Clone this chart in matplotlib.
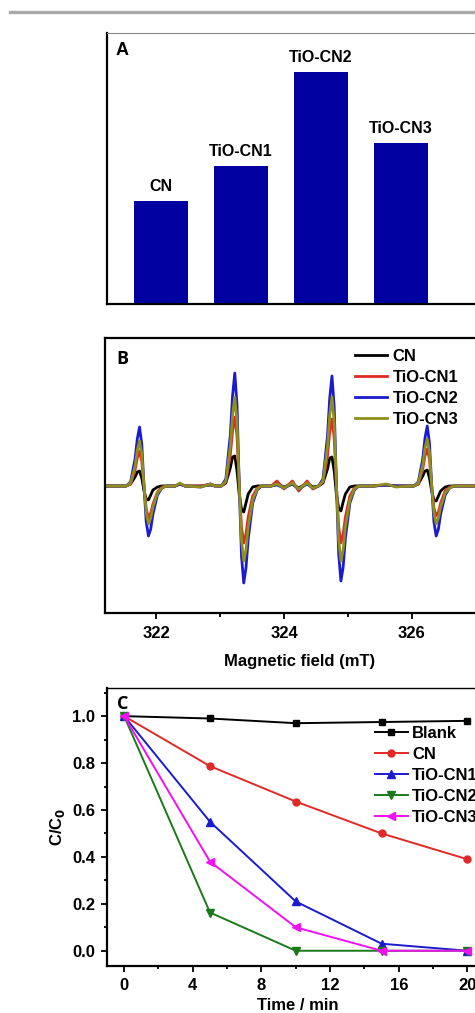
import matplotlib
matplotlib.use("Agg")
import matplotlib.pyplot as plt
from matplotlib.lines import Line2D

# --------------------------------
# Data
# --------------------------------

# Panel A: relative signal intensity (no axis scale in figure)
samples = ["CN", "TiO-CN1", "TiO-CN2", "TiO-CN3"]
intensity = [1.00, 1.34, 2.25, 1.56]

# Panel B: EPR spectra (field in mT, signal in a.u.)
field = [321.20, 321.45,
         321.53, 321.60, 321.67, 321.705, 321.74, 321.775, 321.81, 321.845, 321.88, 321.915, 321.95, 322.02, 322.09, 322.16,
         322.30, 322.37, 322.45, 322.70, 322.85, 322.92,
         323.02, 323.09, 323.16, 323.195, 323.23, 323.265, 323.30, 323.335, 323.37, 323.405, 323.44, 323.51, 323.58, 323.65,
         323.80, 323.89, 324.00, 324.13, 324.23, 324.36, 324.45,
         324.54, 324.61, 324.68, 324.715, 324.75, 324.785, 324.82, 324.855, 324.89, 324.925, 324.96, 325.03, 325.10, 325.17,
         325.40, 325.60, 325.75, 325.95,
         326.03, 326.10, 326.17, 326.205, 326.24, 326.275, 326.31, 326.345, 326.38, 326.415, 326.45, 326.52, 326.59, 326.66,
         326.90, 327.30]

epr_cn = [0, 0,
          0, 2, 9, 14, 15, 8, -5, -13, -14, -9, -4, -1, 0, 0,
          0, 2, 0, 0, 1, 0,
          0, 3, 18, 29, 30, 15, -9, -23, -26, -17, -8, -1, 0, 0,
          0, 2, -1, 2, -2, 3, -1,
          0, 3, 17, 28, 29, 15, -9, -22, -25, -16, -8, -1, 0, 0,
          0, 1, 0, 0,
          0, 2, 10, 15, 16, 8, -5, -14, -15, -10, -5, -1, 0, 0,
          0, 0]

epr_cn1 = [0, 0,
           0, 2, 16, 28, 35, 25, 0, -23, -32, -27, -18, -6, -1, 0,
           0, 2, 0, 0, 2, 0,
           0, 4, 31, 55, 69, 50, 0, -41, -57, -48, -31, -10, -2, 0,
           0, 5, -3, 5, -5, 5, -3,
           0, 4, 30, 54, 67, 48, 0, -41, -57, -48, -31, -10, -2, 0,
           0, 1, 0, 0,
           0, 2, 17, 30, 37, 27, 0, -22, -30, -26, -17, -5, -1, 0,
           0, 0]

epr_cn2 = [0, 0,
           0, 4, 27, 47, 59, 42, 0, -36, -50, -43, -28, -9, -2, 0,
           0, 2, 0, -1, 2, 0,
           0, 7, 51, 90, 113, 81, 0, -70, -97, -82, -53, -17, -4, 0,
           0, 1, -2, 2, -3, 2, -2,
           0, 7, 50, 88, 110, 79, 0, -68, -95, -81, -52, -17, -4, 0,
           0, 1, 0, 0,
           0, 4, 27, 48, 60, 43, 0, -36, -50, -43, -28, -9, -2, 0,
           0, 0]

epr_cn3 = [0, 0,
           0, 3, 20, 36, 45, 32, 0, -27, -38, -32, -21, -7, -2, 0,
           0, 3, 0, -1, 2, 0,
           0, 5, 40, 71, 89, 64, 0, -54, -75, -64, -41, -14, -3, 0,
           0, 2, -2, 3, -3, 3, -2,
           0, 5, 40, 71, 89, 64, 0, -54, -75, -64, -41, -14, -3, 0,
           0, 2, -1, 0,
           0, 3, 21, 38, 47, 34, 0, -27, -38, -32, -21, -7, -2, 0,
           0, 0]

# Panel C: degradation C/C0 vs time
time_min = [0, 5, 10, 15, 20]
blank = [1.00, 0.99, 0.97, 0.975, 0.98]
cn = [1.00, 0.787, 0.636, 0.50, 0.39]
tio_cn1 = [1.00, 0.55, 0.21, 0.03, 0.0]
tio_cn2 = [1.00, 0.163, 0.0, 0.0, 0.0]
tio_cn3 = [1.00, 0.38, 0.10, 0.0, 0.0]

# --------------------------------
# Style
# --------------------------------
plt.rcParams["font.family"] = ["Liberation Sans", "DejaVu Sans"]
plt.rcParams["font.weight"] = "bold"
plt.rcParams["axes.labelweight"] = "bold"

W, H = 475, 1013
fig = plt.figure(figsize=(W / 100, H / 100), dpi=100)


def px_axes(left, top, width, bottom):
    return fig.add_axes([left / W, 1 - bottom / H, width / W, (bottom - top) / H])


# gray rule at top
fig.add_artist(Line2D([10 / W, 1.0], [1 - 12 / H, 1 - 12 / H], color="#a9a9a9", lw=2.4))

# --------------------------------
# Panel A
# --------------------------------
ax1 = px_axes(107, 33, 374, 304)
x_pos = range(len(samples))
bars = ax1.bar(x_pos, intensity, width=0.675, color="#0000a0")
for b, name in zip(bars, samples):
    ax1.annotate(name, (b.get_x() + b.get_width() / 2, b.get_height()),
                 xytext=(0, 5), textcoords="offset points",
                 ha="center", va="bottom", fontsize=11.5, fontweight="bold")
ax1.set_xlim(-0.675, 4.0)
ax1.set_ylim(0, 2.63)
ax1.set_xticks([])
ax1.set_yticks([])
ax1.spines["right"].set_visible(False)
ax1.spines["left"].set_linewidth(1.6)
ax1.spines["bottom"].set_linewidth(1.6)
ax1.spines["top"].set_linewidth(0.8)
ax1.spines["top"].set_color("#8a8a8a")
ax1.text(0.024, 0.965, "A", transform=ax1.transAxes, ha="left", va="top",
         fontsize=13, fontweight="bold")

# --------------------------------
# Panel B
# --------------------------------
ax2 = px_axes(105, 338, 390, 613)
ax2.plot(field, epr_cn, color="black", lw=2, label="CN")
ax2.plot(field, epr_cn1, color="#e02a25", lw=2, label="TiO-CN1")
ax2.plot(field, epr_cn2, color="#1a1ad0", lw=2, label="TiO-CN2")
ax2.plot(field, epr_cn3, color="#8f8f1c", lw=2, label="TiO-CN3")
ax2.set_xlim(321.2, 327.3)
ax2.set_ylim(-127, 148)
ax2.set_yticks([])
ax2.set_xticks([322, 324, 326])
ax2.set_xticks([323, 325, 327], minor=True)
ax2.tick_params(axis="x", which="major", direction="out", length=4, width=1.3,
                labelsize=12, pad=5)
ax2.tick_params(axis="x", which="minor", direction="out", length=3, width=1.3)
ax2.spines["right"].set_visible(False)
for s in ["left", "bottom", "top"]:
    ax2.spines[s].set_linewidth(1.6)
ax2.set_xlabel("Magnetic field (mT)", fontsize=12, labelpad=10)
ax2.legend(loc="upper left", bbox_to_anchor=(0.641, 0.96), frameon=False,
           fontsize=12, handlelength=1.95, handletextpad=0.3,
           labelspacing=0.36, borderpad=0, borderaxespad=0)
ax2.text(0.028, 0.955, "B", transform=ax2.transAxes, ha="left", va="top",
         fontsize=13, fontweight="bold", family=["Open Sans", "DejaVu Sans"])

# --------------------------------
# Panel C
# --------------------------------
ax3 = px_axes(107, 688, 381, 966)
ax3.plot(time_min, blank, "-s", color="black", ms=4.5, lw=1.4, label="Blank")
ax3.plot(time_min, cn, "-o", color="#e02a25", ms=5, lw=1.4, label="CN")
ax3.plot(time_min, tio_cn1, "-^", color="#1a1ad0", ms=5.5, lw=1.4, label="TiO-CN1")
ax3.plot(time_min, tio_cn2, "-v", color="#1a7a1a", ms=5.5, lw=1.4, label="TiO-CN2")
ax3.plot(time_min, tio_cn3, "-<", color="#f010f0", ms=5.5, lw=1.4, label="TiO-CN3")
ax3.set_xlim(-1, 21.2)
ax3.set_ylim(-0.065, 1.12)
ax3.set_xticks([0, 4, 8, 12, 16, 20])
ax3.set_xticks([2, 6, 10, 14, 18], minor=True)
ax3.set_yticks([0.0, 0.2, 0.4, 0.6, 0.8, 1.0])
ax3.set_yticks([0.1, 0.3, 0.5, 0.7, 0.9, 1.1], minor=True)
ax3.yaxis.set_major_formatter(matplotlib.ticker.FormatStrFormatter("%.1f"))
ax3.tick_params(which="major", direction="out", length=4.5, width=1.3,
                labelsize=12, pad=4)
ax3.tick_params(which="minor", direction="out", length=2.5, width=1.3)
ax3.spines["right"].set_visible(False)
ax3.spines["left"].set_linewidth(1.6)
ax3.spines["bottom"].set_linewidth(1.6)
ax3.spines["top"].set_linewidth(1.0)
ax3.set_xlabel("Time / min", fontsize=12, labelpad=4)
ax3.set_ylabel("C/C$_\\mathbf{0}$", fontsize=12, labelpad=4)
ax3.legend(loc="upper left", bbox_to_anchor=(0.704, 0.865), frameon=False,
           fontsize=12, handlelength=1.95, handletextpad=0.25,
           labelspacing=0.36, borderpad=0, borderaxespad=0)
ax3.text(0.026, 0.975, "C", transform=ax3.transAxes, ha="left", va="top",
         fontsize=13, fontweight="bold", family=["Open Sans", "DejaVu Sans"])

fig.savefig("out.png", dpi=100)
